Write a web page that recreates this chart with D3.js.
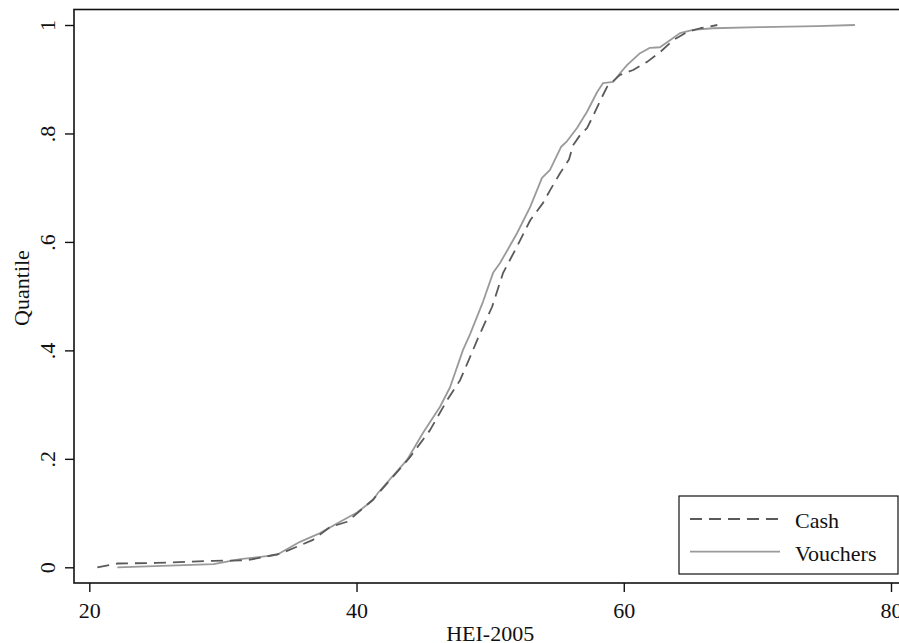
<!DOCTYPE html>
<html>
<head>
<meta charset="utf-8">
<script src="https://cdn.jsdelivr.net/npm/d3@7"></script>
<style>
  body { margin: 0; background: #fff; }
  svg { display: block; font-family: "Liberation Serif", "Times New Roman", serif; }
</style>
</head>
<body>
<div id="chart"></div>
<script>
// quantile curves: [HEI-2005 score, quantile]
var cashPoints = [
    [20.6, 0.0], [22.1, 0.007], [25.0, 0.008], [29.3, 0.012], [31.8, 0.013],
    [34.3, 0.025], [36.7, 0.05], [38.0, 0.074], [39.3, 0.084], [41.2, 0.124],
    [44.0, 0.203], [45.5, 0.253], [46.8, 0.309], [47.75, 0.345], [48.5, 0.388],
    [49.1, 0.423], [50.14, 0.48], [50.97, 0.543], [52.0, 0.591], [53.0, 0.64],
    [53.96, 0.672], [54.5, 0.696], [55.24, 0.727], [55.9, 0.752], [56.2, 0.778],
    [56.73, 0.797], [57.25, 0.81], [57.7, 0.832], [58.23, 0.86], [58.75, 0.886],
    [59.72, 0.908], [60.7, 0.917], [61.75, 0.932], [62.72, 0.95], [63.7, 0.972],
    [64.74, 0.987], [65.72, 0.994], [67.0, 1.0]
];
var voucherPoints = [
    [22.1, 0.0], [26.0, 0.003], [29.3, 0.006], [31.3, 0.015], [34.05, 0.023],
    [35.77, 0.047], [37.27, 0.063], [38.77, 0.084], [40.04, 0.101], [41.24, 0.124],
    [41.6, 0.137], [43.78, 0.198], [44.98, 0.248], [46.25, 0.296], [47.0, 0.332],
    [47.97, 0.401], [48.5, 0.43], [49.47, 0.49], [50.22, 0.543], [50.74, 0.561],
    [52.01, 0.616], [52.99, 0.664], [53.88, 0.718], [54.48, 0.733], [55.3, 0.775],
    [55.76, 0.786], [56.5, 0.81], [57.25, 0.84], [58.0, 0.876], [58.45, 0.893],
    [59.2, 0.895], [59.72, 0.911], [60.24, 0.926], [61.22, 0.948], [61.96, 0.958],
    [62.71, 0.959], [63.46, 0.972], [64.2, 0.985], [65.18, 0.991], [66.68, 0.994],
    [70.2, 0.996], [74.46, 0.998], [77.3, 1.0]
];
var xTicks = [20, 40, 60, 80];
var yTicks = [0, 0.2, 0.4, 0.6, 0.8, 1];
var yTickLabels = ['0', '.2', '.4', '.6', '.8', '1'];
var seriesNames = ['Cash', 'Vouchers'];

var width = 899, height = 643;
var frame = { left: 74, top: 9.5, bottom: 583 };

var svg = d3.select('#chart').append('svg')
    .attr('width', width)
    .attr('height', height);

var x = d3.scaleLinear().domain([20, 80]).range([89.3, 891]);
var y = d3.scaleLinear().domain([0, 1]).range([567.3, 25]);

// plot frame (right side runs off the page)
svg.append('rect')
    .attr('x', frame.left)
    .attr('y', frame.top)
    .attr('width', width + 10 - frame.left)
    .attr('height', frame.bottom - frame.top)
    .attr('fill', 'none')
    .attr('stroke', '#111')
    .attr('stroke-width', 1.6);

// x axis
var xAxis = svg.append('g')
    .attr('transform', 'translate(0,' + frame.bottom + ')')
    .call(d3.axisBottom(x).tickValues(xTicks).tickSize(9).tickSizeOuter(0).tickPadding(10));
xAxis.select('.domain').remove();
xAxis.selectAll('line').attr('stroke', '#111').attr('stroke-width', 1.4);
xAxis.selectAll('text')
    .attr('fill', '#111')
    .style('font-size', '22px')
    .style('font-family', '"Liberation Serif", serif');

// y axis, labels turned on their side
var yAxis = svg.append('g')
    .attr('transform', 'translate(' + frame.left + ',0)')
    .call(d3.axisLeft(y).tickValues(yTicks).tickSize(9).tickSizeOuter(0)
        .tickFormat(function (d, i) { return yTickLabels[i]; }));
yAxis.select('.domain').remove();
yAxis.selectAll('line').attr('stroke', '#111').attr('stroke-width', 1.4);
yAxis.selectAll('text')
    .attr('x', null).attr('dy', null)
    .attr('transform', 'translate(-19,0) rotate(-90)')
    .attr('text-anchor', 'middle')
    .attr('fill', '#111')
    .style('font-size', '22px')
    .style('font-family', '"Liberation Serif", serif');

// axis titles
svg.append('text')
    .attr('x', (x(20) + x(80)) / 2)
    .attr('y', 641)
    .attr('text-anchor', 'middle')
    .attr('fill', '#111')
    .style('font-size', '22px')
    .text('HEI-2005');

svg.append('text')
    .attr('transform', 'translate(29,288) rotate(-90)')
    .attr('text-anchor', 'middle')
    .attr('fill', '#111')
    .style('font-size', '22px')
    .text('Quantile');

var line = d3.line()
    .x(function (d) { return x(d[0]); })
    .y(function (d) { return y(d[1]); });

var styles = [
    { color: '#5a5a5a', dash: '12,7' },
    { color: '#9a9a9a', dash: null }
];

// vouchers drawn first so the dashed cash line sits on top
[voucherPoints, cashPoints].forEach(function (pts, i) {
    var s = styles[1 - i];
    svg.append('path')
        .datum(pts)
        .attr('d', line)
        .attr('fill', 'none')
        .attr('stroke', s.color)
        .attr('stroke-width', 1.8)
        .attr('stroke-dasharray', s.dash)
        .attr('stroke-linejoin', 'round');
});

// legend
var legend = svg.append('g').attr('transform', 'translate(679,496)');
legend.append('rect')
    .attr('width', 219)
    .attr('height', 78)
    .attr('fill', '#fff')
    .attr('stroke', '#111')
    .attr('stroke-width', 1.2);

seriesNames.forEach(function (name, i) {
    var ly = 23 + i * 32.7;
    legend.append('line')
        .attr('x1', 11).attr('x2', 101)
        .attr('y1', ly).attr('y2', ly)
        .attr('stroke', styles[i].color)
        .attr('stroke-width', 1.8)
        .attr('stroke-dasharray', styles[i].dash);
    legend.append('text')
        .attr('x', 116)
        .attr('y', ly + 9)
        .attr('fill', '#111')
        .style('font-size', '22px')
        .text(name);
});
</script>
</body>
</html>
